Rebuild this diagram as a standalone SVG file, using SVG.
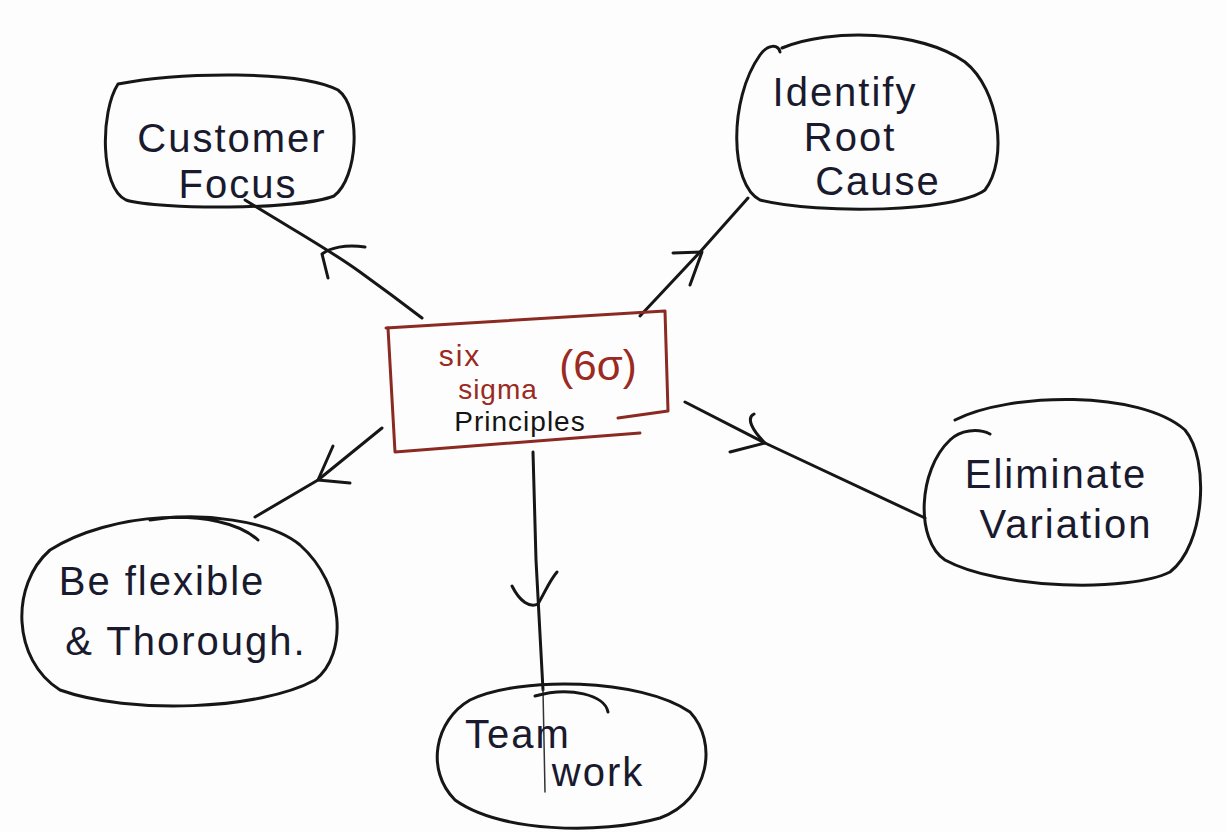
<svg xmlns="http://www.w3.org/2000/svg" width="1226" height="832" viewBox="0 0 1226 832">
  <style>
    .ink { fill: none; stroke: #161616; stroke-width: 3; stroke-linecap: round; stroke-linejoin: round; }
    .thin { fill: none; stroke: #333; stroke-width: 1.5; stroke-linecap: round; }
    .box { fill: none; stroke: #8a2a22; stroke-width: 3; stroke-linejoin: round; stroke-linecap: round; }
    .lbl { font-family: "Liberation Sans", "DejaVu Sans", sans-serif; font-size: 40px; letter-spacing: 2px; fill: #1a1a2e; text-anchor: middle; }
    .red { font-family: "Liberation Sans", "DejaVu Sans", sans-serif; fill: #9a2a22; text-anchor: middle; }
    .blk { font-family: "Liberation Sans", "DejaVu Sans", sans-serif; fill: #141414; text-anchor: middle; }
  </style>
  <rect width="1226" height="832" fill="#fdfdfd"/>

  <!-- connectors with hand-drawn chevron heads -->
  <g id="connectors">
    <path class="ink" d="M245,200 C290,228 330,250 360,272 C385,290 405,305 422,318"/>
    <path class="ink" d="M365,247 C345,244 330,248 322,254 L328,278"/>

    <path class="ink" d="M640,316 L700,252 L748,198"/>
    <path class="ink" d="M673,253 L702,252 L690,285"/>

    <path class="ink" d="M685,402 L765,443 L925,518"/>
    <path class="ink" d="M730,452 L765,443 C752,430 746,418 754,414"/>

    <path class="ink" d="M382,428 L318,480 L255,517"/>
    <path class="ink" d="M333,446 L318,480 L350,483"/>

    <path class="ink" d="M533,452 L536,560 L543,690"/>
    <path class="thin" d="M543,690 L545,792"/>
    <path class="ink" d="M512,586 C520,602 530,608 538,604 C545,592 550,580 557,572"/>
  </g>

  <g id="center">
    <path class="box" d="M386,328 L665,311 L668,411 L618,418"/>
    <path class="box" d="M388,328 L395,452 L640,433"/>
    <text class="red" x="460" y="366" font-size="30" letter-spacing="2">six</text>
    <text class="red" x="598" y="380" font-size="42">(6σ)</text>
    <text class="red" x="498" y="399" font-size="28" letter-spacing="1">sigma</text>
    <text class="blk" x="520" y="431" font-size="28" letter-spacing="1">Principles</text>
  </g>

  <g id="customer-focus">
    <path class="ink" d="M118,84 C180,72 300,70 338,90 C362,108 358,178 334,196 C298,210 160,210 126,200 C100,188 100,112 118,84 Z"/>
    <text class="lbl" x="232" y="152">Customer</text>
    <text class="lbl" x="238" y="198">Focus</text>
  </g>

  <g id="root-cause">
    <path class="ink" d="M782,48 C830,28 920,30 965,62 C1000,90 1008,160 985,190 C955,212 820,215 760,200 C730,185 728,100 760,55 C768,44 778,44 780,52"/>
    <text class="lbl" x="845" y="106">Identify</text>
    <text class="lbl" x="850" y="151">Root</text>
    <text class="lbl" x="878" y="195">Cause</text>
  </g>

  <g id="eliminate-variation">
    <path class="ink" d="M955,420 C1010,392 1140,390 1185,430 C1210,460 1205,545 1170,572 C1130,592 1000,590 945,560 C915,540 918,470 950,440 C960,430 978,428 990,434"/>
    <text class="lbl" x="1056" y="488">Eliminate</text>
    <text class="lbl" x="1066" y="538">Variation</text>
  </g>

  <g id="flexible-thorough">
    <path class="ink" d="M258,540 C220,505 110,512 50,550 C10,585 12,660 60,690 C130,715 260,710 315,680 C348,655 345,585 300,545 C270,520 200,512 150,520"/>
    <text class="lbl" x="162" y="595">Be flexible</text>
    <text class="lbl" x="186" y="655">&amp; Thorough.</text>
  </g>

  <g id="team-work">
    <path class="ink" d="M470,700 C520,676 640,678 690,712 C718,742 710,800 660,818 C600,835 500,832 455,800 C425,770 435,720 470,700 Z"/>
    <path class="ink" d="M535,696 C570,686 605,695 608,712"/>
    <text class="lbl" x="518" y="748">Team</text>
    <text class="lbl" x="598" y="786">work</text>
  </g>
</svg>
